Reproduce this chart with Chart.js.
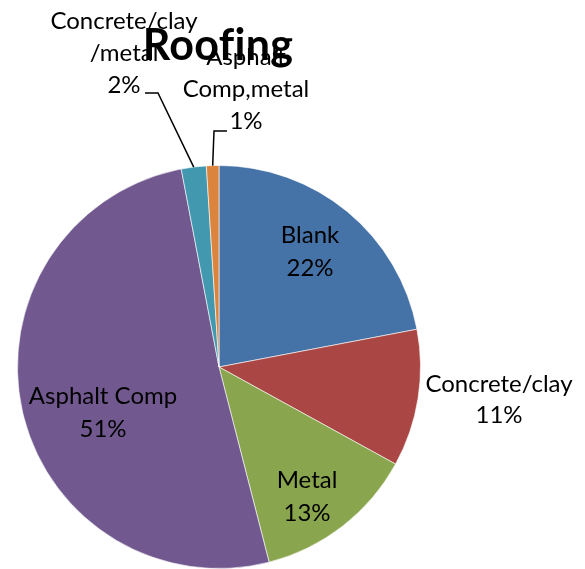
<!DOCTYPE html>
<html>
<head>
<meta charset="utf-8">
<script src="https://cdn.jsdelivr.net/npm/chart.js@4.4.0/dist/chart.umd.min.js"></script>
<style>
  html, body { margin: 0; padding: 0; background: #fff; }
  #wrap { width: 585px; height: 569px; }
</style>
</head>
<body>
<div id="wrap"><canvas id="roofCanvas"></canvas></div>
<script>
var categories = ['Blank', 'Concrete/clay', 'Metal', 'Asphalt Comp', 'Concrete/clay /metal', 'Asphalt Comp,metal'];
var percents = [22, 11, 13, 51, 2, 1];
var colors = ['#4572A7', '#AA4643', '#89A54E', '#71588F', '#4198AF', '#DB843D'];

var FONT = 'Lato, "Open Sans", sans-serif';

// where each label sits, as an offset of its first baseline from the pie centre;
// the two thin slices get a leader line that ends on the slice edge
var labelSetup = [
    { lines: ['Blank'], dx: 91, dy: -124 },
    { lines: ['Concrete/clay'], dx: 280, dy: 25, lh: 31 },
    { lines: ['Metal'], dx: 88, dy: 121 },
    { lines: ['Asphalt Comp'], dx: -116, dy: 37 },
    { lines: ['Concrete/clay', '/metal'], dx: -95, dy: -338, lh: 32, leader: [[-74, -274], [-61, -274]] },
    { lines: ['Asphalt', 'Comp,metal'], dx: 27, dy: -302, lh: 32, leader: [[8, -236], [-5, -236]] }
];

var labelPlugin = {
    id: 'roofLabels',
    afterDraw: function (chart) {
        var ctx = chart.ctx;
        var meta = chart.getDatasetMeta(0);
        ctx.save();
        ctx.textAlign = 'center';
        ctx.textBaseline = 'alphabetic';
        ctx.fillStyle = '#000';
        meta.data.forEach(function (arc, i) {
            var p = arc.getProps(['x', 'y', 'startAngle', 'endAngle', 'outerRadius'], true);
            var mid = (p.startAngle + p.endAngle) / 2;
            var s = labelSetup[i];
            var lines = s.lines.concat([percents[i] + '%']);
            var lh = s.lh || 33;
            if (s.leader) {
                var ex = p.x + Math.cos(mid) * p.outerRadius;
                var ey = p.y + Math.sin(mid) * p.outerRadius;
                ctx.beginPath();
                ctx.strokeStyle = '#000';
                ctx.lineWidth = 1.5;
                ctx.moveTo(p.x + s.leader[0][0], p.y + s.leader[0][1]);
                ctx.lineTo(p.x + s.leader[1][0], p.y + s.leader[1][1]);
                ctx.lineTo(ex, ey);
                ctx.stroke();
            }
            ctx.font = '24px ' + FONT;
            lines.forEach(function (t, k) {
                ctx.fillText(t, p.x + s.dx, p.y + s.dy + k * lh);
            });
        });
        // title (a touch of letter spacing keeps the f and i apart)
        ctx.font = 'bold 43px ' + FONT;
        ctx.letterSpacing = '0.3px';
        ctx.fillText('Roofing', 218, 60);
        ctx.restore();
    }
};

new Chart(document.getElementById('roofCanvas'), {
    type: 'pie',
    data: {
        labels: categories,
        datasets: [{
            data: percents,
            backgroundColor: colors,
            borderColor: 'rgba(255,255,255,0.6)',
            borderWidth: 1
        }]
    },
    options: {
        responsive: true,
        maintainAspectRatio: false,
        animation: false,
        layout: { padding: { top: 165, bottom: 0, left: 0, right: 147 } },
        plugins: {
            legend: { display: false },
            tooltip: { enabled: false },
            title: { display: false }
        }
    },
    plugins: [labelPlugin]
});
</script>
</body>
</html>
